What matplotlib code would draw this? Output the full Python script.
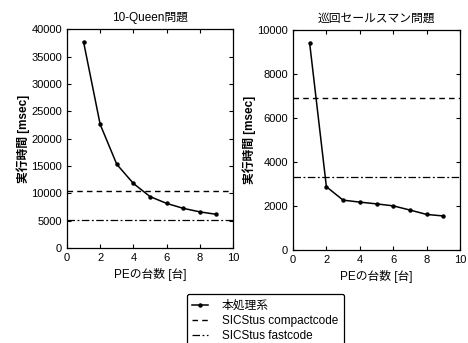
import numpy as np
import matplotlib.pyplot as plt

plt.rcParams['font.family'] = ['Liberation Sans', 'Noto Sans CJK JP']
plt.rcParams['font.size'] = 8

pe = [1, 2, 3, 4, 5, 6, 7, 8, 9]

# 10-Queen問題
queen_time = [37700, 22600, 15300, 11800, 9400, 8150, 7250, 6600, 6150]
queen_compact = 10400
queen_fast = 5100

# 巡回セールスマン問題
tsp_time = [9400, 2880, 2270, 2180, 2100, 2010, 1820, 1620, 1550]
tsp_compact = 6900
tsp_fast = 3300

fig = plt.figure(figsize=(4.68, 3.43), dpi=100)
ax1 = fig.add_axes([0.143, 0.277, 0.355, 0.638])
ax2 = fig.add_axes([0.626, 0.271, 0.357, 0.641])


def draw(ax, t, compact, fast, ymax, ystep, title):
    l1, = ax.plot(pe, t, color='black', lw=1.1, marker='o', ms=2.2)
    l2 = ax.axhline(compact, color='black', lw=1.0, ls=(0, (4, 3)))
    l3 = ax.axhline(fast, color='black', lw=0.9, ls=(0, (6, 2, 1.5, 2)))
    ax.set_xlim(0, 10)
    ax.set_ylim(0, ymax)
    ax.set_xticks(np.arange(0, 11, 2))
    ax.set_yticks(np.arange(0, ymax + 1, ystep))
    ax.tick_params(direction='in', top=True, right=True, length=3, width=0.8)
    for s in ax.spines.values():
        s.set_linewidth(0.9)
    ax.set_title(title, fontsize=8.5, pad=6)
    ax.set_xlabel('PEの台数 [台]', fontsize=8.5)
    ax.set_ylabel('実行時間 [msec]', fontsize=8.5, fontweight='bold', labelpad=1)
    return l1, l2, l3


handles = draw(ax1, queen_time, queen_compact, queen_fast, 40000, 5000, '10-Queen問題')
draw(ax2, tsp_time, tsp_compact, tsp_fast, 10000, 2000, '巡回セールスマン問題')

leg = fig.legend(handles, ['本処理系', 'SICStus compactcode', 'SICStus fastcode'],
                 loc='upper center', bbox_to_anchor=(0.567, 0.16), fontsize=8.5,
                 fancybox=True, edgecolor='black', framealpha=1,
                 handlelength=1.3, handletextpad=1.2, labelspacing=0.25,
                 borderpad=0.5)
leg.get_frame().set_linewidth(0.9)

fig.savefig('out.png', dpi=100)
